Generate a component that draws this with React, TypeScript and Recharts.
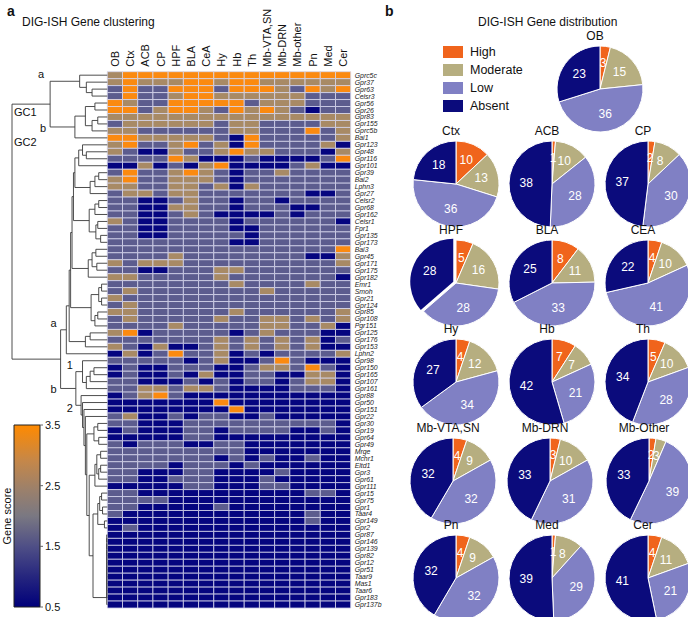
import React from 'react';
import { BarChart, Bar, XAxis, YAxis, Cell, PieChart, Pie, ScatterChart, Scatter, ReferenceLine } from 'recharts';

const FONT = "'Liberation Sans', Arial, Helvetica, sans-serif";

const regions = ['OB', 'Ctx', 'ACB', 'CP', 'HPF', 'BLA', 'CeA', 'Hy', 'Hb', 'Th', 'Mb-VTA,SN', 'Mb-DRN', 'Mb-other', 'Pn', 'Med', 'Cer'];

const genes = [
  'Gprc5c', 'Gpr37', 'Gpr63', 'Celsr3', 'Gpr56', 'Gpr26', 'Gpr83', 'Gpr155', 'Gprc5b', 'Bai1',
  'Gpr123', 'Gpr48', 'Gpr116', 'Gpr101', 'Gpr39', 'Bai2', 'Lphn3', 'Gpr27', 'Celsr2', 'Gpr68',
  'Gpr162', 'Celsr1', 'Fpr1', 'Gpr135', 'Gpr173', 'Bai3', 'Gpr45', 'Gpr171', 'Gpr175', 'Gpr182',
  'Emr1', 'Smoh', 'Gpr21', 'Gpr124', 'Gpr85', 'Gpr108', 'Pgr151', 'Gpr125', 'Gpr176', 'Gpr153',
  'Lphn2', 'Gpr98', 'Gpr150', 'Gpr165', 'Gpr107', 'Gpr161', 'Gpr88', 'Gpr50', 'Gpr151', 'Gpr22',
  'Gpr30', 'Gpr19', 'Gpr64', 'Gpr49', 'Mrge', 'Mchr1', 'Eltd1', 'Gpr3', 'Gpr61', 'Gpr111',
  'Gpr15', 'Gpr75', 'Gpr1', 'Taar4', 'Gpr149', 'Gpr2', 'Gpr87', 'Gpr146', 'Gpr139', 'Gpr82',
  'Gpr12', 'Gpr51', 'Taar9', 'Mas1', 'Taar6', 'Gpr183', 'Gpr137b',
];

// gene score level per region (0 absent, 1 low, 2 moderate, 3 high), columns in `regions` order
const scores = [
  '2333333333333333', '2322233233222222', '1311333133321323', '1311233222222111', '3211333331222111',
  '3312332132321011', '2222222222222222', '1222222122111122', '2211111122111312', '3322222103111112',
  '2311231203111120', '2100211232211102', '1111320001000013', '0020102300001200', '1311232101121111',
  '2311222101111111', '2211221202111111', '1221221111111001', '1100121101101111', '1100221101110011',
  '1100121000010111', '2100111101111110', '1100111100111111', '1100111110111111', '1111111100111111',
  '1111111111111113', '1111211111111002', '2122211111111112', '1100111221111111', '2211111211111110',
  '1111111121111211', '1211111111211111', '2111111111111111', '1211111111111111', '2211111121111112',
  '1211111211221212', '1111211111221120', '2301111101211100', '1111111212121201', '2102001212121200',
  '0201311201011112', '1111101200131000', '0100111001221310', '0100102001100220', '1100010101101220',
  '1122122100001110', '0123100000000000', '0000000300000000', '0000000030000000', '1200101100100000',
  '1100011111111110', '0100011011110010', '0000011000000000', '1011100110000000', '1111111110000000',
  '1111111010100100', '1111011101000000', '1100011000010000', '1100111000100000', '0000011000110000',
  '1100000000000110', '1111000000000000', '1100000100000000', '1000000000000100', '0000000000000100',
  '0100000000000000', '0000000000000000', '0000000000000000', '0000000000000000', '0000000000000000',
  '0000000000000000', '0000000000000000', '0000000000000000', '0000000000000000', '0000000000000000',
  '0000000000000000', '0000000000000000',
];

// dendrogram linkage: [node, left, right, height]  (leaves = gene indices)
const links: [string, number | string, number | string, number][] = [
  ['a34', 2, 3, 1.6], ['a234', 1, 'a34', 2.2], ['GC1a', 0, 'a234', 2.9],
  ['b56', 4, 5, 1.3], ['b78', 6, 7, 1.0], ['b789', 'b78', 8, 1.6], ['b59', 'b56', 'b789', 2.3], ['GC1b', 'b59', 9, 3.4],
  ['GC1', 'GC1a', 'GC1b', 6.0],
  ['t1', 11, 12, 2.2], ['t2', 10, 't1', 2.6], ['Ct', 't2', 13, 3.0],
  ['A', 14, 15, 0.9], ['B', 'A', 16, 1.3], ['C1', 'B', 17, 1.8],
  ['D', 18, 19, 0.9], ['E', 'D', 20, 1.3], ['F', 21, 22, 1.0], ['G', 23, 24, 0.7], ['H', 'F', 'G', 1.2], ['C2', 'E', 'H', 1.9],
  ['K', 25, 26, 1.2], ['L', 27, 28, 1.1], ['M', 'K', 'L', 1.6], ['C3', 'M', 29, 2.0],
  ['O', 30, 31, 0.6], ['P', 32, 33, 0.6], ['Q', 'O', 'P', 0.9], ['R', 34, 35, 1.0], ['S', 'R', 36, 1.3], ['C4', 'Q', 'S', 1.7],
  ['W', 37, 38, 1.8], ['C5', 'W', 39, 2.3],
  ['n1', 'Ct', 'C1', 3.4], ['n2', 'n1', 'C2', 3.55], ['n3', 'n2', 'C3', 3.7], ['n4', 'n3', 'C4', 3.85],
  ['n5', 'n4', 'C5', 4.0], ['GC2a', 'n5', 40, 4.3],
  ['X1', 42, 43, 1.4], ['X2', 'X1', 44, 1.8], ['X3', 'X2', 45, 2.2], ['GC2b1', 41, 'X3', 2.6],
  ['z1', 50, 51, 1.0], ['z2', 52, 53, 0.9], ['C8', 'z1', 'z2', 1.4],
  ['z3', 54, 55, 0.7], ['z4', 56, 57, 0.7], ['z5', 'z4', 58, 0.9], ['z6', 'z3', 'z5', 1.1], ['C9', 'z6', 59, 1.3],
  ['z7', 60, 61, 0.6], ['z8', 62, 63, 0.5], ['z9', 'z7', 'z8', 0.8], ['z10', 64, 65, 0.3], ['C10', 'z9', 'z10', 1.0],
  ['e1', 66, 67, 0.06], ['e2', 'e1', 68, 0.06], ['e3', 'e2', 69, 0.06], ['e4', 'e3', 70, 0.06], ['e5', 'e4', 71, 0.06],
  ['e6', 'e5', 72, 0.06], ['e7', 'e6', 73, 0.06], ['e8', 'e7', 74, 0.06], ['e9', 'e8', 75, 0.06], ['e10', 'e9', 76, 0.06],
  ['r1', 'C10', 'e10', 1.5], ['r2', 'C9', 'r1', 1.9], ['Rr', 'C8', 'r2', 2.15],
  ['q4', 49, 'Rr', 2.3], ['q3', 48, 'q4', 2.45], ['q2', 47, 'q3', 2.6], ['GC2b2', 46, 'q2', 2.75],
  ['GC2b', 'GC2b1', 'GC2b2', 3.3], ['GC2', 'GC2a', 'GC2b', 4.9],
  ['root', 'GC1', 'GC2', 10],
];

const pieRegions = ['OB', 'Ctx', 'ACB', 'CP', 'HPF', 'BLA', 'CEA', 'Hy', 'Hb', 'Th', 'Mb-VTA,SN', 'Mb-DRN', 'Mb-Other', 'Pn', 'Med', 'Cer'];
const highCounts = [3, 10, 1, 2, 5, 8, 4, 4, 7, 5, 4, 3, 2, 4, 1, 4];
const moderateCounts = [15, 13, 10, 8, 16, 11, 10, 12, 7, 10, 9, 10, 3, 9, 8, 11];
const lowCounts = [36, 36, 28, 30, 28, 33, 41, 34, 21, 28, 32, 31, 39, 32, 29, 21];
const absentCounts = [23, 18, 38, 37, 28, 25, 22, 27, 42, 34, 32, 33, 33, 32, 39, 41];
const levelNames = ['High', 'Moderate', 'Low', 'Absent'];

const colorbarTicks = [0.5, 1.5, 2.5, 3.5];

// ---- styling / layout ----
const heatColors = ['#05057f', '#5c5c8e', '#a88a65', '#fb8a10'];
const pieColors = ['#f0641c', '#b6ae80', '#8080c4', '#0b0b7c'];
const pieCenters: [number, number][] = [
  [215, 84],
  [71, 179], [167, 179], [263, 179],
  [71, 278], [167, 278], [263, 278],
  [71, 377], [167, 377], [263, 377],
  [68, 476], [165, 476], [264, 476],
  [71, 573], [167, 573], [263, 573],
];
const explodedPie = 4; // HPF: Absent slice pulled out
const explodeLevel = 3;
const explodeDist = 3;

const HM_TOP = 71.7, HM_BOTTOM = 608, LEAF_X = 107.3, ROOT_X = 12, H_MAX = 10;

const heatData = genes.map((g) => {
  const row: any = { gene: g };
  regions.forEach((_, j) => { row['c' + j] = 1; });
  return row;
});

const pieData = pieRegions.map((_, k) => [
  { name: levelNames[0], value: highCounts[k] },
  { name: levelNames[1], value: moderateCounts[k] },
  { name: levelNames[2], value: lowCounts[k] },
  { name: levelNames[3], value: absentCounts[k] },
]);

const nodeY: Record<string, number> = {};
const nodeH: Record<string, number> = {};
function treeSegments() {
  genes.forEach((_, i) => { nodeY[String(i)] = i + 1; nodeH[String(i)] = 0; });
  const segs: number[][] = [];
  links.forEach(([name, a, b, h]) => {
    const ka = String(a), kb = String(b);
    const ya = nodeY[ka], yb = nodeY[kb];
    segs.push([nodeH[ka], ya, h, ya]);
    segs.push([h, ya, h, yb]);
    segs.push([nodeH[kb], yb, h, yb]);
    nodeY[name] = (ya + yb) / 2;
    nodeH[name] = h;
  });
  return segs;
}
const segments = treeSegments();
const leafPts = genes.map((_, i) => ({ h: 0, y: i + 1 }));
const rowPx = (HM_BOTTOM - HM_TOP) / genes.length;
const yPx = (n: string) => HM_TOP + (nodeY[n] - 0.5) * rowPx;
const xPx = (n: string) => LEAF_X - (nodeH[n] / H_MAX) * (LEAF_X - ROOT_X);

const RAD = Math.PI / 180;
const renderPieLabel = (props: any) => {
  const { cx, cy, midAngle, outerRadius, value } = props;
  const r = outerRadius * 0.6;
  const x = cx + r * Math.cos(-midAngle * RAD);
  const y = cy + r * Math.sin(-midAngle * RAD);
  return (
    <text x={x} y={y} fill="#fff" fontSize={12} fontFamily={FONT} textAnchor="middle" dominantBaseline="central">
      {value}
    </text>
  );
};

const ColTick = (props: any) => {
  const { x, y, payload } = props;
  const label = regions[Math.floor(payload.value)];
  const yy = y + 3;
  return (
    <text x={x} y={yy} transform={`rotate(-90 ${x} ${yy})`} textAnchor="start" dominantBaseline="central" fontSize={11} fontFamily={FONT} fill="#111">
      {label}
    </text>
  );
};

const GeneTick = (props: any) => {
  const { x, y, payload } = props;
  return (
    <text x={x - 4} y={y} dominantBaseline="central" fontSize={6.9} fontStyle="italic" fontFamily={FONT} fill="#222">
      {payload.value}
    </text>
  );
};

const txt = (s: string, left: number, top: number, extra: any = {}) => (
  <div style={{ position: 'absolute', left, top, fontFamily: FONT, fontSize: 11, color: '#111', lineHeight: 1, whiteSpace: 'nowrap', ...extra }}>{s}</div>
);

function explodeOffset(k: number) {
  const vals = pieData[k].map((d) => d.value);
  const total = vals.reduce((s, v) => s + v, 0);
  const before = vals.slice(0, explodeLevel).reduce((s, v) => s + v, 0);
  const mid = 90 - 360 * (before + vals[explodeLevel] / 2) / total;
  return [explodeDist * Math.cos(mid * RAD), -explodeDist * Math.sin(mid * RAD)];
}

export default function App() {
  const [edx, edy] = explodeOffset(explodedPie);
  return (
    <div style={{ position: 'absolute', left: 0, top: 0, width: 688, height: 617, background: '#fff', overflow: 'hidden' }}>
      <svg width={0} height={0} style={{ position: 'absolute' }}>
        <defs>
          <linearGradient id="cbGrad" x1="0" y1="0" x2="0" y2="1">
            <stop offset="0%" stopColor="#ff8a00" />
            <stop offset="20%" stopColor="#c4874a" />
            <stop offset="36%" stopColor="#9a806c" />
            <stop offset="50%" stopColor="#7a7882" />
            <stop offset="67%" stopColor="#4e4e86" />
            <stop offset="84%" stopColor="#24247e" />
            <stop offset="100%" stopColor="#00007a" />
          </linearGradient>
        </defs>
      </svg>

      {/* heatmap */}
      <div style={{ position: 'absolute', left: 0, top: 0 }}>
        <BarChart width={420} height={617} data={heatData} layout="vertical"
          margin={{ top: HM_TOP - 60, left: LEAF_X, right: 9.3, bottom: 617 - HM_BOTTOM }} barCategoryGap={0} barGap={0}>
          <XAxis xAxisId="t" type="number" orientation="top" domain={[0, 16]} ticks={regions.map((_, j) => j + 0.5)}
            height={60} axisLine={false} tickLine={false} interval={0} tick={ColTick} />
          <YAxis yAxisId="g" type="category" dataKey="gene" orientation="right" width={60}
            axisLine={false} tickLine={false} interval={0} tick={GeneTick} />
          {regions.map((r, j) => (
            <Bar key={r} xAxisId="t" yAxisId="g" dataKey={'c' + j} stackId="s" isAnimationActive={false}
              stroke="#d6d6ec" strokeWidth={0.8}>
              {genes.map((g, i) => <Cell key={g} fill={heatColors[Number(scores[i][j])]} />)}
            </Bar>
          ))}
        </BarChart>
      </div>

      {/* dendrogram */}
      <div style={{ position: 'absolute', left: 0, top: 0 }}>
        <ScatterChart width={110} height={617} margin={{ top: HM_TOP, left: ROOT_X, right: 110 - LEAF_X, bottom: 617 - HM_BOTTOM }}>
          <XAxis type="number" dataKey="h" domain={[0, H_MAX]} reversed hide />
          <YAxis type="number" dataKey="y" domain={[0.5, genes.length + 0.5]} reversed hide />
          <Scatter data={leafPts} isAnimationActive={false} shape={() => <g />} />
          {segments.map((s, i) => (
            <ReferenceLine key={i} segment={[{ x: s[0], y: s[1] }, { x: s[2], y: s[3] }]} stroke="#3a3a3a" strokeWidth={0.9} ifOverflow="visible" />
          ))}
        </ScatterChart>
      </div>

      {/* colorbar */}
      <div style={{ position: 'absolute', left: 0, top: 415 }}>
        <BarChart width={80} height={202} data={[{ name: 'cb', range: [0.5, 3.5] }]}
          margin={{ top: 10, left: 14, right: 10, bottom: 10 }} barCategoryGap={0}>
          <XAxis dataKey="name" hide />
          <YAxis type="number" orientation="right" domain={[0.5, 3.5]} ticks={colorbarTicks} width={30}
            axisLine={false} tickSize={3} tick={{ fontSize: 11, fill: '#111', fontFamily: FONT }} />
          <Bar dataKey="range" fill="url(#cbGrad)" stroke="#222" strokeWidth={1} isAnimationActive={false} />
        </BarChart>
      </div>

      {/* pies */}
      <div style={{ position: 'absolute', left: 380, top: 0 }}>
        <PieChart width={308} height={617}>
          {pieRegions.map((r, k) => (
            <Pie key={r} data={pieData[k]} dataKey="value" nameKey="name" cx={pieCenters[k][0]} cy={pieCenters[k][1]}
              outerRadius={43} startAngle={90} endAngle={-270} stroke="#fff" strokeWidth={1}
              isAnimationActive={false} labelLine={false}
              label={(p: any) => (k === explodedPie && p.index === explodeLevel ? null : renderPieLabel(p))}>
              {pieData[k].map((d, i) => (
                <Cell key={d.name} fill={k === explodedPie && i === explodeLevel ? 'transparent' : pieColors[i]}
                  stroke={k === explodedPie && i === explodeLevel ? 'none' : '#fff'} />
              ))}
            </Pie>
          ))}
          <Pie key="explode" data={pieData[explodedPie]} dataKey="value" nameKey="name"
            cx={pieCenters[explodedPie][0] + edx} cy={pieCenters[explodedPie][1] + edy}
            outerRadius={43} startAngle={90} endAngle={-270} stroke="none" isAnimationActive={false}
            label={(p: any) => (p.index === explodeLevel ? renderPieLabel(p) : null)} labelLine={false}>
            {pieData[explodedPie].map((d, i) => (
              <Cell key={d.name} fill={i === explodeLevel ? pieColors[i] : 'transparent'} />
            ))}
          </Pie>
        </PieChart>
      </div>

      {/* pie titles */}
      {pieRegions.map((r, k) => (
        <div key={r} style={{ position: 'absolute', left: 380 + pieCenters[k][0], top: pieCenters[k][1] - 54, transform: 'translateX(-50%)', fontFamily: FONT, fontSize: 12, color: '#111', whiteSpace: 'nowrap', lineHeight: 1 }}>{r}</div>
      ))}

      {/* legend */}
      {levelNames.map((n, i) => (
        <div key={n} style={{ position: 'absolute', left: 443, top: 46 + i * 18, display: 'flex', alignItems: 'center' }}>
          <div style={{ width: 20, height: 12, background: pieColors[i] }} />
          <div style={{ marginLeft: 7, fontFamily: FONT, fontSize: 12.5, color: '#111', lineHeight: 1 }}>{n}</div>
        </div>
      ))}

      {/* texts */}
      {txt('a', 7, 4, { fontWeight: 'bold', fontSize: 14 })}
      {txt('b', 385, 4, { fontWeight: 'bold', fontSize: 14 })}
      {txt('DIG-ISH Gene clustering', 22, 16, { fontSize: 12 })}
      {txt('DIG-ISH Gene distribution', 478, 16, { fontSize: 12 })}
      {txt('a', xPx('GC1') - 12, yPx('GC1a') - 12)}
      {txt('GC1', ROOT_X + 2, yPx('GC1') + 3)}
      {txt('b', xPx('GC1') - 10, yPx('GC1b') - 4)}
      {txt('GC2', ROOT_X + 2, 137)}
      {txt('a', xPx('GC2') - 10, yPx('GC2a') - 12)}
      {txt('1', xPx('GC2b') - 9, yPx('GC2b1') - 12)}
      {txt('b', xPx('GC2') - 10, yPx('GC2b') - 4)}
      {txt('2', xPx('GC2b') - 9, yPx('GC2b2') - 2)}
      <div style={{ position: 'absolute', left: 0, top: 0, width: 14, height: 617 }}>
        <div style={{ position: 'absolute', left: 7, top: 516, transform: 'translate(-50%,-50%) rotate(-90deg)', fontFamily: FONT, fontSize: 11, color: '#111', whiteSpace: 'nowrap' }}>Gene score</div>
      </div>
    </div>
  );
}
